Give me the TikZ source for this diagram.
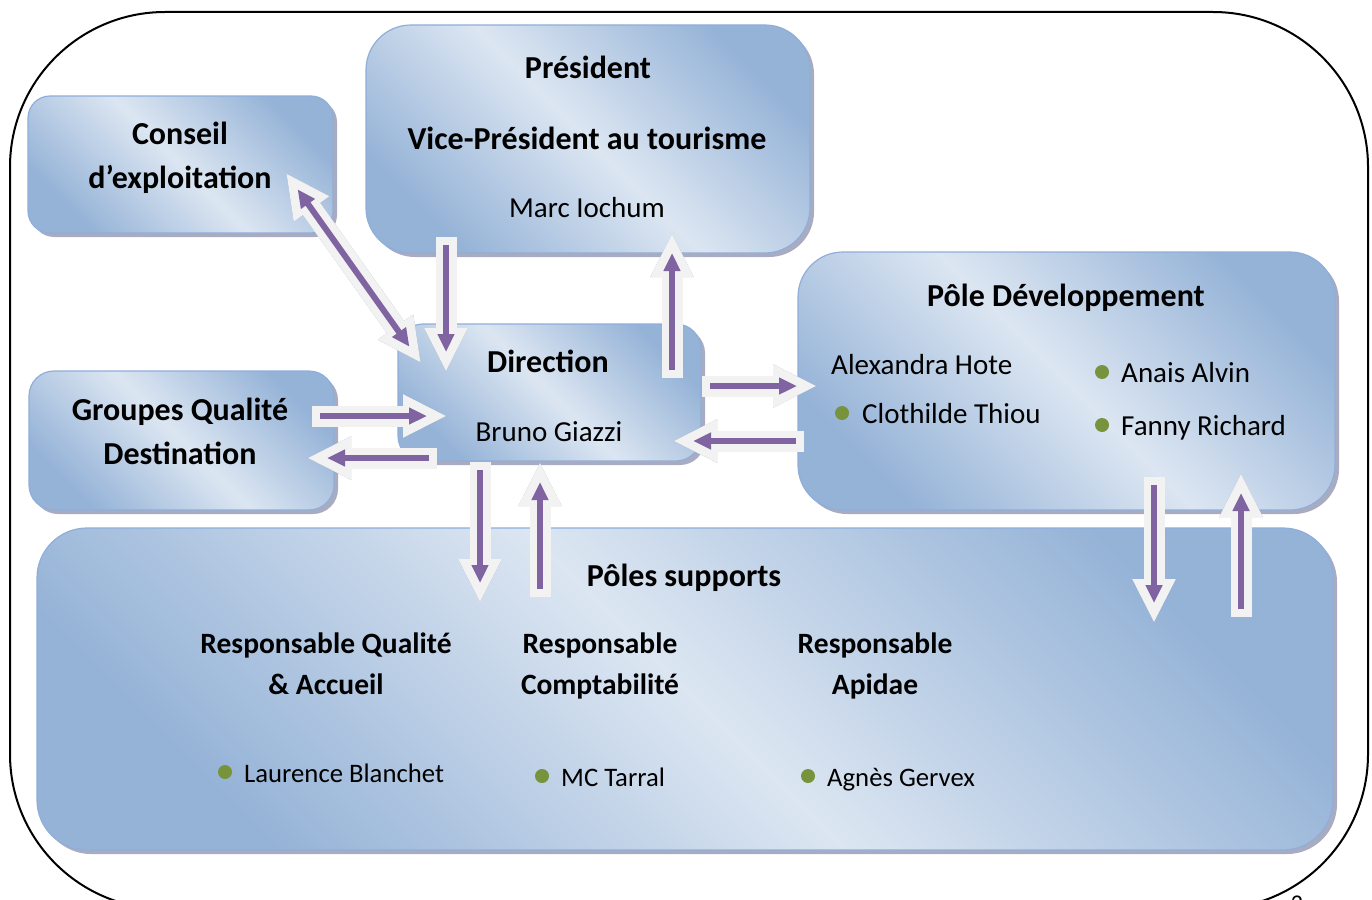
\documentclass[tikz,border=0pt]{standalone}
\usepackage{fontspec}
\setmainfont{Carlito}
\usetikzlibrary{arrows.meta,shadows}
\definecolor{lightb}{HTML}{DCE6F2}
\definecolor{darkb}{HTML}{95B3D7}
\definecolor{edgeb}{HTML}{8FAEDA}
\definecolor{shadowc}{HTML}{A9ACC0}
\definecolor{arrowfill}{HTML}{F2F2F2}
\definecolor{purp}{HTML}{8064A2}
\definecolor{bulletg}{HTML}{77933C}
\newcommand\blockarr[2]{%
  \draw[bshadow] (#1) -- (#2);
  \draw[barrow] (#1) -- (#2);
  \draw[pline] (#1) -- (#2);}
\begin{document}
\begin{tikzpicture}[x=1pt,y=-1pt,
  box/.style={draw=edgeb, line width=1.2pt, top color=darkb, bottom color=darkb, middle color=lightb,
    shading angle=-45, inner sep=0pt,
    general shadow={fill=shadowc, shadow xshift=4pt, shadow yshift=-4pt}},
  barrow/.style={line width=21pt, draw=arrowfill, -{Triangle[width=40pt,length=44pt]}},
  bshadow/.style={barrow, draw=shadowc, shift={(4,4)}},
  pline/.style={line width=6pt, draw=purp, -{Triangle[width=16pt,length=18pt]}, shorten >=20pt, shorten <=8pt},
  t/.style={inner sep=0pt, font=\fontsize{29}{35}\selectfont},
  ts/.style={inner sep=0pt, font=\fontsize{26.7}{32}\selectfont},
  tb/.style={inner sep=0pt, font=\fontsize{32}{38}\selectfont\bfseries},
  tbs/.style={inner sep=0pt, font=\fontsize{29.5}{35}\selectfont\bfseries},
  bul/.style={circle, fill=bulletg, inner sep=0pt, minimum size=14pt}]
\useasboundingbox (0,0) rectangle (1372,899);
% outer frame
\draw[line width=2pt, rounded corners=155pt] (10,12) rectangle (1368,909);
% boxes
\node[box, minimum width=305pt, minimum height=137pt, rounded corners=22pt] (conseil) at (180.5,164.5) {};
\node[box, minimum width=444pt, minimum height=228pt, rounded corners=45pt] (pres) at (588,139) {};
\node[box, minimum width=303pt, minimum height=137pt, rounded corners=25pt] (dir) at (549.5,392.5) {};
\node[box, minimum width=305pt, minimum height=139pt, rounded corners=25pt] (gqd) at (181.5,440.5) {};
\node[box, minimum width=537pt, minimum height=258pt, rounded corners=45pt] (pdev) at (1066.5,381) {};
\node[box, minimum width=1296pt, minimum height=322pt, rounded corners=50pt] (psup) at (685,689) {};
% texts
\node[tb, anchor=base] (t1) at (588,78) {Président};
\node[tb, anchor=base] (t2) at (587,149) {Vice-Président au tourisme};
\node[t, anchor=base] (t3) at (587,217) {Marc Iochum};
\node[tb, anchor=base] (t4) at (180,144) {Conseil};
\node[tb, anchor=base] (t5) at (180,188) {d’exploitation};
\node[tb, anchor=base] (t6) at (548,372) {Direction};
\node[t, anchor=base] (t7) at (549,441) {Bruno Giazzi};
\node[tb, anchor=base] (t8) at (180,420) {Groupes Qualité};
\node[tb, anchor=base] (t9) at (180,464) {Destination};
\node[tb, anchor=base] (t10) at (1066,306) {Pôle Développement};
\node[t, anchor=base west] (t11) at (831,374) {Alexandra Hote};
\node[bul] (b1) at (842,413) {};
\node[t, anchor=base west] (t12) at (862,423) {Clothilde Thiou};
\node[bul] (b2) at (1102,372) {};
\node[t, anchor=base west] (t13) at (1121,382) {Anais Alvin};
\node[bul] (b3) at (1102,425) {};
\node[t, anchor=base west] (t14) at (1121,435) {Fanny Richard};
\node[tb, anchor=base] (t15) at (684,586) {Pôles supports};
\node[tbs, anchor=base] (t16) at (326,653) {Responsable Qualité};
\node[tbs, anchor=base] (t17) at (326,694) {\& Accueil};
\node[tbs, anchor=base] (t18) at (600,653) {Responsable};
\node[tbs, anchor=base] (t19) at (600,694) {Comptabilité};
\node[tbs, anchor=base] (t20) at (875,653) {Responsable};
\node[tbs, anchor=base] (t21) at (875,694) {Apidae};
\node[bul] (b4) at (225,772) {};
\node[ts, anchor=base west] (t22) at (244,782) {Laurence Blanchet};
\node[bul] (b5) at (542,776) {};
\node[ts, anchor=base west] (t23) at (561,786) {MC Tarral};
\node[bul] (b6) at (808,776) {};
\node[ts, anchor=base west] (t24) at (827,786) {Agnès Gervex};
\node[t, anchor=base, font=\fontsize{24}{28}\selectfont] (pagenum) at (1297,911) {2};
% arrow end points
\coordinate (a1) at (286,173); \coordinate (a2) at (421,363);
\coordinate (b1s) at (446,237); \coordinate (b1e) at (446,372);
\coordinate (c1s) at (672,378); \coordinate (c1e) at (672,233);
\coordinate (d1s) at (312,416); \coordinate (d1e) at (447,416);
\coordinate (e1s) at (437,458); \coordinate (e1e) at (307,458);
\coordinate (f1s) at (702,386); \coordinate (f1e) at (817,386);
\coordinate (g1s) at (804,441); \coordinate (g1e) at (673,441);
\coordinate (h1s) at (480,462); \coordinate (h1e) at (480,603);
\coordinate (i1s) at (540,597); \coordinate (i1e) at (540,462);
\coordinate (j1s) at (1154,477); \coordinate (j1e) at (1154,623);
\coordinate (k1s) at (1241,617); \coordinate (k1e) at (1241,473);
% double diagonal arrow
\draw[bshadow, {Triangle[width=40pt,length=44pt]}-{Triangle[width=40pt,length=44pt]}] (a1) -- (a2);
\draw[barrow, {Triangle[width=40pt,length=44pt]}-{Triangle[width=40pt,length=44pt]}] (a1) -- (a2);
\draw[pline, {Triangle[width=16pt,length=18pt]}-{Triangle[width=16pt,length=18pt]}, shorten <=20pt] (a1) -- (a2);
\blockarr{b1s}{b1e}
\blockarr{c1s}{c1e}
\blockarr{d1s}{d1e}
\blockarr{e1s}{e1e}
\blockarr{f1s}{f1e}
\blockarr{g1s}{g1e}
\blockarr{h1s}{h1e}
\blockarr{i1s}{i1e}
\blockarr{j1s}{j1e}
\blockarr{k1s}{k1e}
\end{tikzpicture}
\end{document}
